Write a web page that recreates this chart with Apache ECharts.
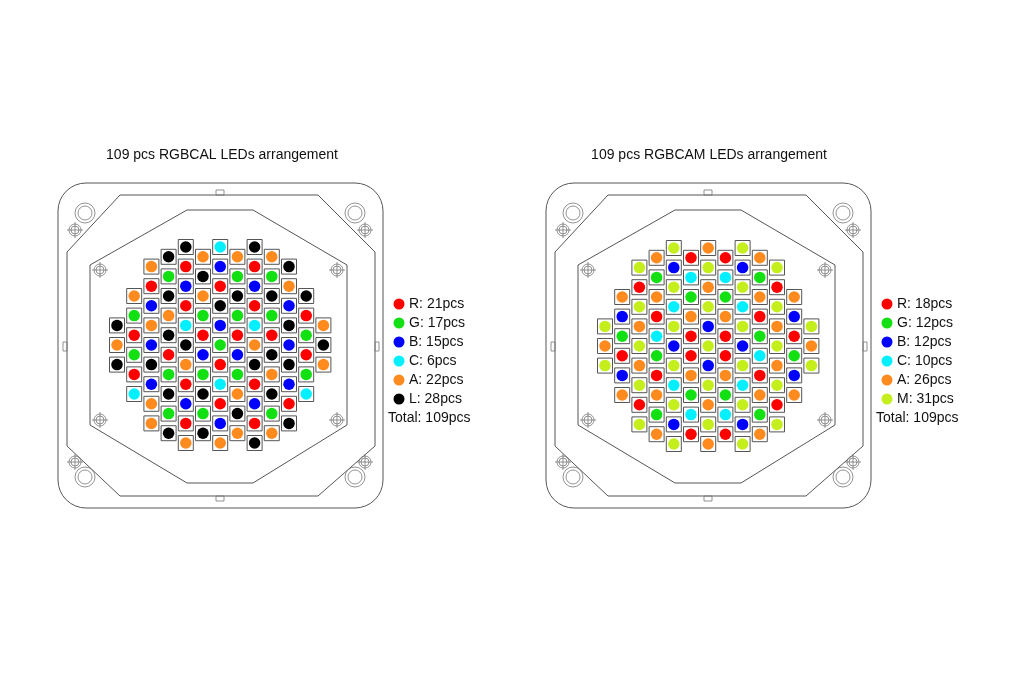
<!DOCTYPE html>
<html>
<head>
<meta charset="utf-8">
<script src="https://cdn.jsdelivr.net/npm/echarts@6/dist/echarts.min.js"></script>
<style>html,body{margin:0;background:#fff}#main{width:1024px;height:675px}</style>
</head>
<body>
<div id="main"></div>
<script>
// LED colours per column, top to bottom (R,G,B,C,A,L,M)
var calColumns = ['LAL', 'AGRGRC', 'ARBABLBAA', 'LGLALRGLGL', 'LRBRCLARBRA', 'ALAGRBGLGL',
    'CBRLBGRCRBA', 'AGLGRBGALA', 'LRBRCALRBRL', 'AGLGRLALGA', 'LABLBLBRL', 'LRGRGC', 'ALA'];
var camColumns = ['MAM', 'ABGRBA', 'MRMAMAMRM', 'AGARCGRAGA', 'MBMCMBMCMBM', 'RCGARRAGCR',
    'AMAMBMBMAMA', 'RCGARRAGCR', 'MBMCMBMCMBM', 'AGARGCRAGA', 'MRMAMAMRM', 'ABRGBA', 'MAM'];
var calLegend = ['R: 21pcs', 'G: 17pcs', 'B: 15pcs', 'C: 6pcs', 'A: 22pcs', 'L: 28pcs'];
var camLegend = ['R: 18pcs', 'G: 12pcs', 'B: 12pcs', 'C: 10pcs', 'A: 26pcs', 'M: 31pcs'];
var calKeys = ['R', 'G', 'B', 'C', 'A', 'L'];
var camKeys = ['R', 'G', 'B', 'C', 'A', 'M'];
var titles = ['109 pcs RGBCAL LEDs arrangement', '109 pcs RGBCAM LEDs arrangement'];
var totalText = 'Total: 109pcs';

var colors = {R: '#ff0000', G: '#12e012', B: '#0000ff', C: '#00f0ff', A: '#ff8a1e', L: '#000000', M: '#c4ee1c'};
var font = '"Liberation Sans", Arial, sans-serif';

function ledData(cols) {
    var out = [];
    cols.forEach(function(s, i) {
        var start = 10 - (s.length - 1);
        for (var k = 0; k < s.length; k++) {
            out.push({value: [i + 1, start + 2 * k], itemStyle: {color: colors[s[k]], opacity: 1}});
        }
    });
    return out;
}

function housing(dx) {
    var line = {stroke: '#555', lineWidth: 1, fill: null};
    var thin = {stroke: '#777', lineWidth: 0.8, fill: null};
    var els = [];
    els.push({type: 'rect', shape: {x: 58 + dx, y: 183, width: 325, height: 325, r: 28}, style: line});
    els.push({type: 'polygon', shape: {points: [[120, 195], [318, 195], [375, 252], [375, 446], [318, 496], [120, 496], [67, 446], [67, 252]].map(function(p) { return [p[0] + dx, p[1]]; })}, style: line});
    els.push({type: 'polygon', shape: {points: [[187, 210], [253, 210], [347, 265], [347, 425], [253, 483], [187, 483], [90, 425], [90, 265]].map(function(p) { return [p[0] + dx, p[1]]; })}, style: line});
    [[85, 213], [355, 213], [85, 477], [355, 477]].forEach(function(c) {
        els.push({type: 'circle', shape: {cx: c[0] + dx, cy: c[1], r: 7}, style: thin});
        els.push({type: 'circle', shape: {cx: c[0] + dx, cy: c[1], r: 10}, style: thin});
    });
    [[75, 230], [365, 230], [75, 462], [365, 462], [100, 270], [337, 270], [100, 420], [337, 420]].forEach(function(c) {
        els.push({type: 'circle', shape: {cx: c[0] + dx, cy: c[1], r: 6}, style: thin});
        els.push({type: 'circle', shape: {cx: c[0] + dx, cy: c[1], r: 4}, style: thin});
        els.push({type: 'line', shape: {x1: c[0] + dx - 8, y1: c[1], x2: c[0] + dx + 8, y2: c[1]}, style: thin});
        els.push({type: 'line', shape: {x1: c[0] + dx, y1: c[1] - 8, x2: c[0] + dx, y2: c[1] + 8}, style: thin});
    });
    els.push({type: 'rect', shape: {x: 216 + dx, y: 190, width: 8, height: 5}, style: thin});
    els.push({type: 'rect', shape: {x: 216 + dx, y: 496, width: 8, height: 5}, style: thin});
    els.push({type: 'rect', shape: {x: 63 + dx, y: 342, width: 4, height: 9}, style: thin});
    els.push({type: 'rect', shape: {x: 375 + dx, y: 342, width: 4, height: 9}, style: thin});
    return els;
}

function legend(x, labels, keys) {
    var els = [];
    labels.forEach(function(t, i) {
        var y = 304 + i * 19;
        els.push({type: 'circle', shape: {cx: x, cy: y, r: 5.5}, style: {fill: colors[keys[i]]}});
        els.push({type: 'text', x: x + 10, y: y, style: {text: t, font: '14px ' + font, fill: '#111', textVerticalAlign: 'middle'}});
    });
    els.push({type: 'text', x: x - 11, y: 418, style: {text: totalText, font: '14px ' + font, fill: '#111', textVerticalAlign: 'middle'}});
    return els;
}

var graphics = [].concat(housing(0), housing(488), legend(399, calLegend, calKeys), legend(887, camLegend, camKeys));
graphics.push({type: 'text', x: 222, y: 155, style: {text: titles[0], font: '14px ' + font, fill: '#111', align: 'center', verticalAlign: 'middle'}});
graphics.push({type: 'text', x: 709, y: 155, style: {text: titles[1], font: '14px ' + font, fill: '#111', align: 'center', verticalAlign: 'middle'}});

var colW = 17.2, halfH = 9.8;
function axes(idx) {
    return {
        x: {gridIndex: idx, type: 'value', min: 0, max: 14, show: false},
        y: {gridIndex: idx, type: 'value', min: -1, max: 21, inverse: true, show: false}
    };
}
var a0 = axes(0), a1 = axes(1);
function ledSeries(idx, cols) {
    var d = ledData(cols);
    return [{
        type: 'scatter', xAxisIndex: idx, yAxisIndex: idx, symbol: 'rect', symbolSize: 15, silent: true,
        data: d.map(function(p) { return p.value; }),
        itemStyle: {color: '#fff', borderColor: '#555', borderWidth: 1, opacity: 1}
    }, {
        type: 'scatter', xAxisIndex: idx, yAxisIndex: idx, symbolSize: 11.5, silent: true, data: d,
        itemStyle: {opacity: 1}
    }];
}

var chart = echarts.init(document.getElementById('main'));
chart.setOption({
    animation: false,
    grid: [
        {left: 117 - colW, top: 247 - halfH, width: 14 * colW, height: 22 * halfH},
        {left: 605 - colW, top: 248 - halfH, width: 14 * colW, height: 22 * halfH}
    ],
    xAxis: [a0.x, a1.x],
    yAxis: [a0.y, a1.y],
    graphic: graphics,
    series: ledSeries(0, calColumns).concat(ledSeries(1, camColumns))
});
</script>
</body>
</html>
